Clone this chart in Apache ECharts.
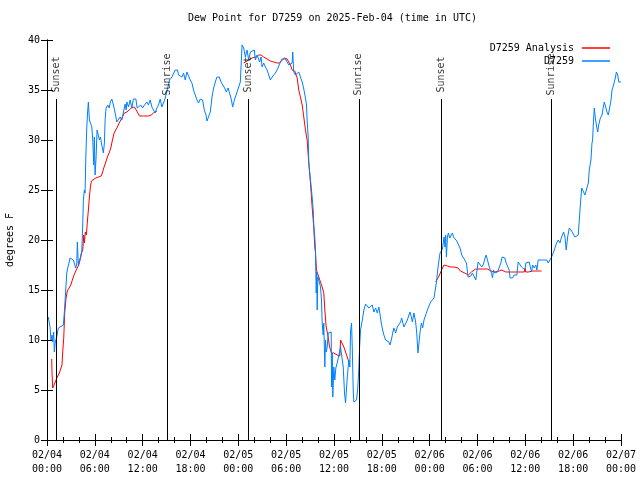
<!DOCTYPE html>
<html><head><meta charset="utf-8">
<script src="https://cdn.jsdelivr.net/npm/echarts@6/dist/echarts.min.js"></script>
<style>html,body{margin:0;padding:0;background:#fff}#c{width:640px;height:480px}</style>
</head><body><div id="c"></div>
<script>
// hours since 2025-02-04 00:00 UTC
const xTickLabels = ['02/04\n00:00','02/04\n06:00','02/04\n12:00','02/04\n18:00','02/05\n00:00','02/05\n06:00','02/05\n12:00','02/05\n18:00','02/06\n00:00','02/06\n06:00','02/06\n12:00','02/06\n18:00','02/07\n00:00'];
const events = [['Sunset',1.17],['Sunrise',15.08],['Sunset',25.3],['Sunrise',39.12],['Sunset',49.42],['Sunrise',63.25]];

const analysisSeg1 = [[0.59,8.1],[0.63,6.7],[0.72,5.2],[0.88,5.3],[1.04,5.8],[1.29,6.3],[1.55,6.7],[1.80,6.7],[1.88,7.5],[1.97,8.8],[2.10,10.2],[2.22,12.7],[2.39,14.2],[2.55,14.9],[2.80,15.0],[2.98,15.5],[3.18,16.0],[3.39,16.5],[3.61,16.9],[3.81,17.1],[3.98,17.5],[4.15,18.0],[4.31,18.7],[4.49,19.0],[4.61,20.5],[4.69,19.7],[4.81,20.8],[4.94,20.5],[5.06,21.8],[5.19,23.0],[5.32,24.3],[5.44,25.3],[5.57,25.9],[5.82,26.1],[6.12,26.2],[6.45,26.3],[6.79,26.4],[6.95,26.7],[7.12,27.2],[7.38,27.8],[7.58,28.3],[7.79,28.7],[8.00,29.2],[8.21,30.0],[8.42,30.7],[8.63,30.9],[8.83,31.3],[9.05,31.7],[9.26,32.0],[9.46,32.3],[9.71,32.7],[10.02,32.8],[10.30,33.0],[10.56,33.2],[10.72,33.3],[10.97,33.3],[11.18,33.1],[11.40,32.7],[11.60,32.4],[12.10,32.4],[12.73,32.4],[13.07,32.5],[13.36,32.7],[13.57,32.8],[13.78,32.9]];
const analysisSeg2 = [[24.67,37.7],[24.88,37.8],[25.30,38.0],[25.72,38.2],[26.14,38.3],[26.55,38.5],[26.85,38.5],[27.18,38.3],[27.61,38.1],[28.02,37.9],[28.44,37.8],[28.86,37.7],[29.19,37.7],[29.49,38.0],[29.78,38.2],[30.12,38.1],[30.32,37.8],[30.54,37.5],[30.75,37.0],[31.08,36.9],[31.38,36.2],[31.58,35.0],[31.79,34.3],[32.01,33.5],[32.21,32.3],[32.42,31.0],[32.63,30.0],[32.84,27.7],[33.05,25.7],[33.26,23.3],[33.46,21.3],[33.59,19.3],[33.68,18.7],[33.80,17.0],[33.93,16.7],[34.22,16.0],[34.52,15.3],[34.72,14.7],[34.85,13.0],[35.02,11.3],[35.27,10.3],[35.44,9.3],[35.69,8.7],[35.98,8.7],[36.40,8.5],[36.61,8.3],[36.74,8.4],[36.82,10.0],[37.03,9.8],[37.24,9.3],[37.45,8.8],[37.66,8.3],[37.86,7.8]];
const analysisSeg3 = [[48.76,15.8],[48.97,16.0],[49.17,16.4],[49.39,16.8],[49.60,17.2],[49.80,17.5],[50.23,17.4],[50.64,17.3],[51.06,17.3],[51.27,17.2],[51.56,17.2],[51.77,17.0],[51.81,17.4],[51.86,16.9],[52.11,16.8],[52.40,16.7],[52.65,16.7],[52.86,16.5],[53.06,16.7],[53.24,16.8],[53.49,17.0],[53.78,17.1],[54.19,17.1],[54.82,17.1],[55.25,17.1],[55.46,17.0],[55.67,16.9],[55.88,16.8],[56.17,16.8],[56.42,16.9],[56.71,16.9],[57.01,17.0],[57.26,16.9],[57.55,16.8],[57.84,16.8],[58.18,16.8],[58.52,16.8],[59.02,16.8],[59.44,16.8],[59.85,16.8],[59.98,17.2],[60.03,16.8],[60.36,16.8],[60.61,16.9],[60.91,16.9],[61.32,16.9],[61.74,16.9],[62.04,16.9]];

const stationData = [[0.16,12.3],[0.38,11.3],[0.50,10.0],[0.63,10.5],[0.72,9.8],[0.84,10.8],[0.92,8.8],[1.04,9.8],[1.22,10.3],[1.42,11.2],[1.55,11.4],[2.05,11.5],[2.17,12.7],[2.35,15.0],[2.48,16.7],[2.60,17.2],[2.76,17.7],[2.89,18.2],[3.10,18.2],[3.30,18.0],[3.48,17.8],[3.61,17.2],[3.73,17.6],[3.81,19.8],[3.93,17.5],[4.06,18.0],[4.23,18.3],[4.36,18.8],[4.49,21.7],[4.56,24.0],[4.69,25.0],[4.78,24.7],[4.86,28.0],[4.99,31.3],[5.11,33.0],[5.19,33.8],[5.32,32.0],[5.44,31.8],[5.62,31.3],[5.74,30.0],[5.87,27.5],[5.94,30.3],[6.03,26.5],[6.16,28.3],[6.28,31.0],[6.45,30.8],[6.57,30.0],[6.70,30.3],[6.87,29.5],[7.07,28.7],[7.20,29.7],[7.29,32.0],[7.41,33.2],[7.63,33.5],[7.79,33.2],[7.95,33.8],[8.13,34.1],[8.33,33.5],[8.55,32.7],[8.76,31.8],[8.96,31.8],[9.17,32.3],[9.39,32.0],[9.59,32.8],[9.80,33.6],[9.93,33.0],[10.02,33.8],[10.22,33.3],[10.43,34.0],[10.64,33.2],[10.84,34.1],[11.15,34.1],[11.31,33.2],[11.56,33.3],[11.77,33.5],[11.98,33.2],[12.23,33.5],[12.53,33.8],[12.73,33.5],[12.94,34.0],[13.16,33.3],[13.36,33.0],[13.57,32.7],[13.78,33.2],[13.99,33.5],[14.20,34.1],[14.41,33.3],[14.61,33.7],[14.83,34.2],[15.08,35.0],[15.37,36.0],[15.67,36.3],[15.87,36.2],[16.08,37.0],[16.37,37.0],[16.50,36.5],[16.71,36.7],[16.93,36.3],[17.13,36.7],[17.34,36.0],[17.55,36.8],[17.76,37.0],[17.97,36.0],[18.18,35.7],[18.38,35.0],[18.60,35.2],[18.81,34.0],[19.01,33.7],[19.23,34.1],[19.52,34.0],[19.73,33.0],[19.94,32.5],[20.07,31.9],[20.32,31.9],[20.48,32.8],[20.70,34.3],[20.90,35.2],[21.11,35.8],[21.32,36.3],[21.61,36.3],[21.83,35.8],[22.08,35.7],[22.28,35.2],[22.49,34.8],[22.71,35.2],[22.87,35.4],[23.08,34.2],[23.29,33.3],[23.50,34.0],[23.84,34.8],[24.13,35.5],[24.25,35.8],[24.47,39.5],[24.67,39.2],[24.88,38.3],[25.09,39.0],[25.30,38.0],[25.51,38.8],[25.72,39.0],[26.01,39.0],[26.14,38.0],[26.35,38.5],[26.55,38.3],[26.68,37.8],[26.85,38.3],[26.98,37.3],[27.18,37.7],[27.39,37.3],[27.61,37.0],[27.81,36.8],[28.02,36.0],[28.24,36.3],[28.44,36.5],[28.65,36.7],[28.86,37.0],[29.07,37.2],[29.28,37.8],[29.49,38.1],[29.69,38.2],[29.91,38.1],[30.12,37.8],[30.32,37.5],[30.54,37.3],[30.75,37.7],[30.82,38.8],[30.95,36.8],[31.16,36.5],[31.38,36.7],[31.58,36.8],[31.79,36.3],[32.01,35.8],[32.21,35.1],[32.42,34.2],[32.55,33.5],[32.63,32.0],[32.76,30.3],[32.84,27.7],[32.96,26.7],[33.09,25.7],[33.26,24.3],[33.39,23.0],[33.46,21.5],[33.59,20.3],[33.68,19.0],[33.72,16.8],[33.77,14.7],[33.84,16.8],[33.89,13.0],[33.97,16.3],[34.09,16.0],[34.31,15.3],[34.43,14.0],[34.52,11.7],[34.64,10.5],[34.72,11.7],[34.85,7.3],[34.93,10.0],[35.02,8.8],[35.15,9.3],[35.27,10.7],[35.44,10.8],[35.65,10.8],[35.69,5.3],[35.78,8.7],[35.85,4.3],[35.98,7.3],[36.10,6.0],[36.23,7.2],[36.40,7.7],[36.61,7.8],[36.82,9.3],[37.03,9.2],[37.16,7.3],[37.32,4.7],[37.45,3.7],[37.57,3.8],[37.66,6.2],[37.79,6.0],[37.86,8.0],[37.99,7.3],[38.07,10.8],[38.20,11.7],[38.29,9.3],[38.41,5.0],[38.49,3.8],[38.70,3.7],[38.83,4.0],[38.99,5.3],[39.12,7.3],[39.21,9.3],[39.33,11.0],[39.55,12.0],[39.75,13.0],[39.96,13.6],[40.17,13.6],[40.38,13.2],[40.59,13.3],[40.80,13.5],[41.00,12.8],[41.22,13.2],[41.43,12.7],[41.63,13.3],[41.76,13.3],[41.93,11.7],[42.10,11.0],[42.26,10.5],[42.47,10.0],[42.69,10.1],[42.89,9.8],[43.02,9.5],[43.19,10.0],[43.39,10.8],[43.51,11.2],[43.73,10.7],[43.94,11.3],[44.14,11.3],[44.36,11.8],[44.48,12.2],[44.61,11.8],[44.77,11.3],[44.99,11.3],[45.20,12.0],[45.40,12.5],[45.53,12.8],[45.70,12.3],[45.83,11.8],[46.03,12.7],[46.24,11.8],[46.37,10.8],[46.53,8.7],[46.66,9.7],[46.78,10.7],[46.96,11.7],[47.12,11.2],[47.29,12.0],[47.50,12.0],[47.71,13.0],[47.91,13.4],[48.13,13.8],[48.34,14.0],[48.54,14.2],[48.76,15.3],[48.88,16.0],[49.01,17.0],[49.17,18.0],[49.30,18.7],[49.47,18.8],[49.60,19.1],[49.80,20.3],[49.92,19.3],[50.01,20.5],[50.10,18.3],[50.23,20.3],[50.35,20.7],[50.52,20.2],[50.64,20.3],[50.86,20.7],[50.98,20.3],[51.18,20.4],[51.40,19.9],[51.61,19.7],[51.81,19.2],[51.90,19.3],[52.02,18.5],[52.24,18.3],[52.40,18.0],[52.61,17.7],[52.82,16.3],[53.03,16.3],[53.16,16.4],[53.37,16.7],[53.57,16.8],[53.79,16.0],[53.91,16.8],[54.08,17.8],[54.33,17.7],[54.54,17.3],[54.75,17.6],[54.95,18.2],[55.08,18.5],[55.25,18.0],[55.46,18.0],[55.58,17.0],[55.76,16.7],[55.88,16.2],[56.01,17.0],[56.17,16.7],[56.30,16.5],[56.51,16.8],[56.71,17.0],[56.93,17.7],[57.09,18.3],[57.27,18.5],[57.43,18.2],[57.59,17.7],[57.84,17.7],[57.97,17.0],[58.09,16.2],[58.39,16.2],[58.60,16.5],[58.94,16.5],[59.10,17.8],[59.35,17.8],[59.53,17.3],[59.78,17.3],[59.94,17.0],[60.07,17.7],[60.28,17.7],[60.48,17.8],[60.61,18.0],[60.78,16.8],[60.91,17.5],[61.11,17.2],[61.32,17.5],[61.45,17.0],[61.61,18.0],[62.16,18.0],[62.70,18.0],[62.87,17.7],[63.08,18.0],[63.29,18.3],[63.50,18.7],[63.71,19.2],[63.92,19.7],[64.13,20.0],[64.34,19.7],[64.55,20.3],[64.80,20.8],[64.97,20.3],[65.13,19.0],[65.31,20.3],[65.51,21.2],[65.64,21.3],[65.81,20.9],[66.01,20.7],[66.23,20.3],[66.44,20.2],[66.64,20.5],[66.77,22.0],[66.90,23.5],[67.07,25.2],[67.27,25.0],[67.48,24.5],[67.69,24.7],[67.90,25.7],[68.02,27.0],[68.23,28.0],[68.36,29.7],[68.44,30.0],[68.52,31.5],[68.65,33.2],[68.78,32.2],[68.95,31.3],[69.08,30.8],[69.20,31.5],[69.41,32.2],[69.62,32.5],[69.78,33.3],[69.91,33.8],[70.12,33.8],[70.24,32.8],[70.41,32.5],[70.58,32.5],[70.75,34.0],[70.87,35.0],[71.00,35.3],[71.16,35.8],[71.29,36.2],[71.42,36.8],[71.59,36.5],[71.72,35.8],[72.00,35.8]];

const FONT = 'DejaVu Sans Mono';
const RED = '#ff0000', BLUE = '#0080ff';
const chart = echarts.init(document.getElementById('c'));

function xAxisBase(pos, labels) {
  return {
    type: 'value', position: pos, min: 0, max: 72, interval: 6,
    axisLine: {show: true, lineStyle: {color: '#000', width: 1}},
    axisTick: {show: true, inside: true, length: 6, lineStyle: {color: '#000'}},
    minorTick: {show: true, splitNumber: 3, length: 3, lineStyle: {color: '#000'}},
    splitLine: {show: false},
    axisLabel: labels ? {show: true, margin: 8, color: '#000', fontFamily: FONT, fontSize: 10, lineHeight: 14,
      showMinLabel: true, showMaxLabel: true, hideOverlap: false,
      formatter: v => xTickLabels[Math.round(v / 6)]} : {show: false}
  };
}
function yAxisBase(pos, labels) {
  return {
    type: 'value', position: pos, min: 0, max: 40, interval: 5,
    axisLine: {show: true, lineStyle: {color: '#000', width: 1}},
    axisTick: {show: true, inside: true, length: 6, lineStyle: {color: '#000'}},
    splitLine: {show: false},
    axisLabel: labels ? {show: true, margin: 7, color: '#000', fontFamily: FONT, fontSize: 10} : {show: false},
    name: labels ? 'degrees F' : '', nameLocation: 'middle', nameRotate: 90, nameGap: 32,
    nameTextStyle: {color: '#000', fontFamily: FONT, fontSize: 10}
  };
}
const lineCommon = {type: 'line', showSymbol: false, symbol: 'none', lineStyle: {width: 1}, animation: false, xAxisIndex: 0, yAxisIndex: 0};

chart.setOption({
  animation: false,
  backgroundColor: '#fff',
  title: {text: 'Dew Point for D7259 on 2025-Feb-04 (time in UTC)', left: 188, top: 13, padding: 0,
    textStyle: {color: '#000', fontFamily: FONT, fontSize: 10, fontWeight: 'normal'}},
  grid: {left: 47, right: 19, top: 40, bottom: 40, containLabel: false, outerBoundsMode: 'none'},
  legend: [
    {data: [{name: 'D7259 Analysis', icon: 'rect'}], right: 30, top: 43, padding: 0, align: 'right', itemWidth: 28, itemHeight: 1.5, itemGap: 0,
      textStyle: {color: '#000', fontFamily: FONT, fontSize: 10, padding: [0, 3, 0, 0]}, selectedMode: false},
    {data: [{name: 'D7259', icon: 'rect'}], right: 30, top: 56, padding: 0, align: 'right', itemWidth: 28, itemHeight: 1.5, itemGap: 0,
      textStyle: {color: '#000', fontFamily: FONT, fontSize: 10, padding: [0, 3, 0, 0]}, selectedMode: false}
  ],
  xAxis: [xAxisBase('bottom', true), xAxisBase('top', false)],
  yAxis: [yAxisBase('left', true), yAxisBase('right', false)],
  series: [
    Object.assign({}, lineCommon, {name: 'D7259 Analysis', data: analysisSeg1, color: RED, lineStyle: {width: 1, color: RED}}),
    Object.assign({}, lineCommon, {name: 'D7259 Analysis', data: analysisSeg2, color: RED, lineStyle: {width: 1, color: RED}}),
    Object.assign({}, lineCommon, {name: 'D7259 Analysis', data: analysisSeg3, color: RED, lineStyle: {width: 1, color: RED}}),
    Object.assign({}, lineCommon, {name: 'D7259', data: stationData, color: BLUE, lineStyle: {width: 1, color: BLUE}}),
    {
      name: 'events', type: 'scatter', symbolSize: 0, silent: true, z: 5,
      data: events.map(e => ({name: e[0], value: [e[1], 36.55]})),
      label: {show: true, position: 'inside', rotate: 90, formatter: '{b}', color: '#000', fontFamily: FONT, fontSize: 10},
      markLine: {
        silent: true, symbol: ['none', 'none'], label: {show: false},
        lineStyle: {color: '#000', width: 1, type: 'solid'},
        data: events.map(e => [{coord: [e[1], 0]}, {coord: [e[1], 34.1]}])
      }
    }
  ]
});
</script></body></html>
